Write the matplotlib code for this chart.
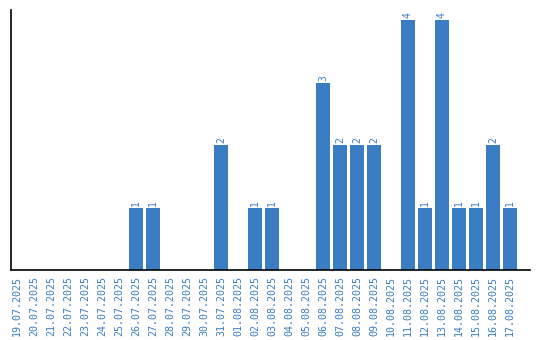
import matplotlib
matplotlib.use("Agg")
import matplotlib.pyplot as plt
import numpy as np

# daily counts, 19.07.2025 - 17.08.2025
dates = ['19.07.2025', '20.07.2025', '21.07.2025', '22.07.2025', '23.07.2025',
         '24.07.2025', '25.07.2025', '26.07.2025', '27.07.2025', '28.07.2025',
         '29.07.2025', '30.07.2025', '31.07.2025', '01.08.2025', '02.08.2025',
         '03.08.2025', '04.08.2025', '05.08.2025', '06.08.2025', '07.08.2025',
         '08.08.2025', '09.08.2025', '10.08.2025', '11.08.2025', '12.08.2025',
         '13.08.2025', '14.08.2025', '15.08.2025', '16.08.2025', '17.08.2025']
counts = [0, 0, 0, 0, 0, 0, 0, 1, 1, 0,
          0, 0, 2, 0, 1, 1, 0, 0, 3, 2,
          2, 2, 0, 4, 1, 4, 1, 1, 2, 1]

blue = '#3a7dc2'

fig = plt.figure(figsize=(5.4, 3.4), dpi=100)
ax = fig.add_axes([11/540, 70/340, 519/540, 260/340])

x = np.arange(len(dates))
ax.bar(x, counts, width=0.82, color=blue)
for xi, c in zip(x, counts):
    if c > 0:
        ax.text(xi, c + 0.03, str(c), rotation=90, ha='center', va='bottom',
                color=blue, fontsize=7, family='DejaVu Sans Mono')

ax.set_xlim(-0.35, len(dates) + 0.18)
ax.set_ylim(0, 4.16)
ax.set_xticks(x)
ax.set_xticklabels(dates, rotation=90, fontsize=7.2, color=blue, family='DejaVu Sans Mono')
ax.set_yticks([])
ax.tick_params(axis='x', length=0, pad=4)
for s in ('top', 'right'):
    ax.spines[s].set_visible(False)
ax.spines['left'].set_linewidth(1.2)
ax.spines['bottom'].set_linewidth(1.2)

fig.savefig('out.png', dpi=100)
